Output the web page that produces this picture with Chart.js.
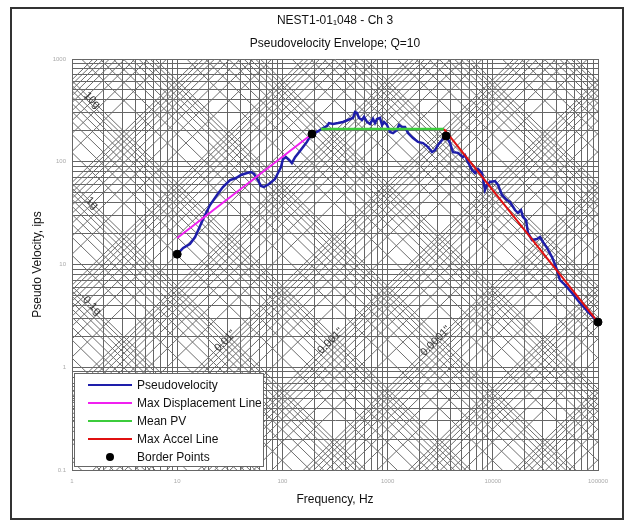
<!DOCTYPE html>
<html>
<head>
<meta charset="utf-8">
<script src="https://cdn.jsdelivr.net/npm/chart.js@4.4.1/dist/chart.umd.min.js"></script>
<style>
  html, body { margin: 0; padding: 0; background: #fff; }
  #wrap { position: relative; width: 635px; height: 527px; }
  #frame { position: absolute; left: 10px; top: 7px; width: 610px; height: 509px; border: 2px solid #333; pointer-events: none; }
</style>
</head>
<body>
<div id="wrap">
  <canvas id="srsChart" width="635" height="527"></canvas>
  <div id="frame"></div>
</div>
<script>
// Tripartite pseudovelocity shock spectrum (log f vs log PV, with accel / displacement diagonals)

const FONT = "'Liberation Sans', Arial, sans-serif";
const G_IPS2 = 386.09; // 1 g in in/s^2

// axis ranges and decade labels
const freqTicks = [1, 10, 100, 1000, 10000, 100000];
const velTicks = [0.1, 1, 10, 100, 1000];

// pseudovelocity envelope (Hz, ips)
const pvFreq = [10, 11.4, 13.2, 14.8, 16.5, 18.0, 20.5, 23.9, 27.2, 31.8, 36.2, 40.4, 46.1, 50.3, 53.7,
  58.6, 62.6, 66.8, 74.6, 85.1, 90.8, 97, 101, 108, 116, 123, 132, 147, 157, 171, 187, 191,
  213, 243, 266, 277, 303, 338, 377, 420, 469, 490, 512, 535, 571, 597, 637, 680, 727, 759,
  793, 847, 885, 924, 987, 1054, 1126, 1228, 1283, 1370, 1464, 1563, 1744, 1946, 2171, 2422,
  2643, 2822, 3014, 3362, 3591, 3919, 4184, 4669, 5209, 5441, 5810, 6340, 6772, 7233, 7893,
  8429, 8810, 9405, 10490, 11210, 12230, 13640, 14570, 16260, 17360, 18540, 19370, 20690,
  21610, 23590, 26310, 28100, 29990, 32740, 36530, 39880, 43530, 48560, 56610, 67450, 80390, 100000];
const pvVel = [12.6, 14.5, 15.8, 18.5, 23.7, 29.0, 37.9, 47.5, 56.8, 66.4, 69.5, 74.3, 77.7, 79.4, 76.0,
  66.4, 58.1, 56.8, 60.7, 67.9, 77.7, 88.9, 106, 111, 104, 97.2, 111, 127, 139, 156, 182, 186,
  195, 213, 223, 238, 233, 238, 244, 255, 267, 305, 298, 267, 255, 273, 244, 233, 261, 238,
  261, 267, 228, 244, 228, 195, 190, 204, 228, 218, 218, 190, 170, 156, 152, 139,
  124, 130, 146, 167, 178, 152, 124, 122, 111, 116, 99.5, 83.1, 77.7, 85.0, 77.7,
  53.1, 59.4, 63.5, 64.9, 59.4, 47.5, 42.4, 40.6, 33.9, 31.7, 33.9, 29.0, 27.1,
  20.3, 17.3, 17.7, 18.5, 16.6, 14.5, 11.8, 9.46, 7.06, 6.32, 5.28, 4.22, 3.45, 2.76];

// envelope fit lines
const dispFreq = [10, 191];
const dispVel = [18.1, 186];
const meanFreq = [233, 3440];
const meanVel = [208, 208];
const accelFreq = [3440, 100000];
const accelVel = [208, 2.75];
const borderFreq = [10, 191, 3600, 100000];
const borderVel = [12.6, 186, 178, 2.75];

// labelled diagonals
const accelLabels = [10, 1, 0.1];            // g
const dispLabels = [0.01, 0.001, 0.0001];    // inches

const pairs = (xs, ys) => xs.map((v, i) => ({ x: v, y: ys[i] }));

// 1..9 x 10^k grid values between lo and hi exponents
function gridValues(lo, hi) {
  const out = [];
  for (let k = lo; k < hi; k++) {
    for (let m = 1; m <= 9; m++) out.push(Number((m * Math.pow(10, k)).toPrecision(6)));
  }
  out.push(Math.pow(10, hi));
  return out;
}
const freqGrid = gridValues(0, 5);
const velGrid = gridValues(-1, 3).map(v => Number(v.toPrecision(6)));

const tripartiteGrid = {
  id: 'tripartiteGrid',
  beforeDatasetsDraw(chart) {
    const { ctx, chartArea: a, scales: { x, y } } = chart;
    const f0 = x.min, f1 = x.max;
    ctx.save();
    ctx.beginPath();
    ctx.rect(a.left, a.top, a.right - a.left, a.bottom - a.top);
    ctx.clip();
    ctx.strokeStyle = '#6e6e6e';
    ctx.lineWidth = 1;
    ctx.beginPath();
    // constant acceleration: V = a / (2 pi f)
    gridValues(-3, 7).forEach(g => {
      const k = g * G_IPS2 / (2 * Math.PI);
      ctx.moveTo(x.getPixelForValue(f0), y.getPixelForValue(k / f0));
      ctx.lineTo(x.getPixelForValue(f1), y.getPixelForValue(k / f1));
    });
    // constant displacement: V = 2 pi f d
    gridValues(-7, 3).forEach(d => {
      const k = 2 * Math.PI * d;
      ctx.moveTo(x.getPixelForValue(f0), y.getPixelForValue(k * f0));
      ctx.lineTo(x.getPixelForValue(f1), y.getPixelForValue(k * f1));
    });
    ctx.stroke();

    ctx.fillStyle = '#333';
    ctx.font = '11px ' + FONT;
    ctx.textAlign = 'center';
    ctx.textBaseline = 'middle';
    accelLabels.forEach(g => {
      const f = 1.55;
      const v = g * G_IPS2 / (2 * Math.PI * f);
      ctx.save();
      ctx.translate(x.getPixelForValue(f), y.getPixelForValue(v));
      ctx.rotate(Math.PI / 4);
      ctx.fillText(g + 'g', 0, 0);
      ctx.restore();
    });
    dispLabels.forEach(d => {
      const v = 1.8;
      const f = v / (2 * Math.PI * d);
      ctx.save();
      ctx.translate(x.getPixelForValue(f), y.getPixelForValue(v));
      ctx.rotate(-Math.PI / 4);
      ctx.fillText(d + '"', 0, 0);
      ctx.restore();
    });
    ctx.restore();
  }
};

const boxLegend = {
  id: 'boxLegend',
  afterDraw(chart) {
    const { ctx } = chart;
    const left = 74, top = 373, w = 189, h = 93;
    ctx.save();
    ctx.fillStyle = '#fff';
    ctx.fillRect(left, top, w, h);
    ctx.strokeStyle = '#666';
    ctx.lineWidth = 1;
    ctx.strokeRect(left + 0.5, top + 0.5, w, h);
    ctx.font = '12px ' + FONT;
    ctx.textBaseline = 'middle';
    ctx.textAlign = 'left';
    chart.data.datasets.forEach((ds, i) => {
      const yy = top + 12 + i * 18;
      if (ds.showLine === false) {
        ctx.fillStyle = ds.pointBackgroundColor;
        ctx.beginPath();
        ctx.arc(110, yy, 4, 0, Math.PI * 2);
        ctx.fill();
      } else {
        ctx.strokeStyle = ds.borderColor;
        ctx.lineWidth = 2;
        ctx.beginPath();
        ctx.moveTo(88, yy);
        ctx.lineTo(132, yy);
        ctx.stroke();
      }
      ctx.fillStyle = '#111';
      ctx.fillText(ds.label, 137, yy + 1);
    });
    ctx.restore();
  }
};

const lineSet = (label, data, color, width, order) => ({
  label, data, borderColor: color, backgroundColor: color, borderWidth: width,
  pointRadius: 0, tension: 0, fill: false, order
});

const ctx = document.getElementById('srsChart').getContext('2d');
new Chart(ctx, {
  type: 'line',
  data: {
    datasets: [
      lineSet('Pseudovelocity', pairs(pvFreq, pvVel), '#1e1eaa', 2.5, 5),
      lineSet('Max Displacement Line', pairs(dispFreq, dispVel), '#f020f0', 2, 4),
      lineSet('Mean PV', pairs(meanFreq, meanVel), '#3ccc3c', 2.5, 3),
      lineSet('Max Accel Line', pairs(accelFreq, accelVel), '#e01010', 2, 2),
      {
        label: 'Border Points',
        data: pairs(borderFreq, borderVel),
        showLine: false,
        pointRadius: 4,
        pointBackgroundColor: '#000',
        pointBorderColor: '#000',
        order: 1,
        clip: false
      }
    ]
  },
  options: {
    responsive: false,
    animation: false,
    layout: { padding: { left: 0, right: 37, top: 0, bottom: 0 } },
    plugins: {
      legend: { display: false },
      tooltip: { enabled: false },
      title: {
        display: true,
        fullSize: false,
        text: 'NEST1-01\u2081048 - Ch 3',
        color: '#111',
        font: { family: FONT, size: 12, weight: 'normal' },
        padding: { top: 13, bottom: 3 }
      },
      subtitle: {
        display: true,
        fullSize: false,
        text: 'Pseudovelocity Envelope; Q=10',
        color: '#111',
        font: { family: FONT, size: 12, weight: 'normal' },
        padding: { top: 6.5, bottom: 7.7 }
      }
    },
    scales: {
      x: {
        type: 'logarithmic',
        min: 1,
        max: 100000,
        afterBuildTicks: s => { s.ticks = freqGrid.map(v => ({ value: v })); },
        afterFit: s => { s.height = 57; },
        ticks: {
          autoSkip: false,
          maxRotation: 0,
          padding: 8,
          color: '#aaa',
          font: { family: FONT, size: 6 },
          callback: v => (freqTicks.includes(v) ? String(v) : '')
        },
        grid: { color: '#666', drawTicks: false },
        border: { color: '#666' },
        title: {
          display: true,
          text: 'Frequency, Hz',
          color: '#111',
          font: { family: FONT, size: 12 },
          padding: { top: 0, bottom: 20 }
        }
      },
      y: {
        type: 'logarithmic',
        min: 0.1,
        max: 1000,
        afterBuildTicks: s => { s.ticks = velGrid.map(v => ({ value: v })); },
        afterFit: s => { s.width = 72; },
        ticks: {
          autoSkip: false,
          padding: 6,
          color: '#aaa',
          font: { family: FONT, size: 6 },
          callback: v => (velTicks.includes(v) ? String(v) : '')
        },
        grid: { color: '#666', drawTicks: false },
        border: { color: '#666' },
        title: {
          display: true,
          text: 'Pseudo Velocity, ips',
          color: '#111',
          font: { family: FONT, size: 12 },
          padding: { top: 30, bottom: 0 }
        }
      }
    }
  },
  plugins: [tripartiteGrid, boxLegend]
});
</script>
</body>
</html>
